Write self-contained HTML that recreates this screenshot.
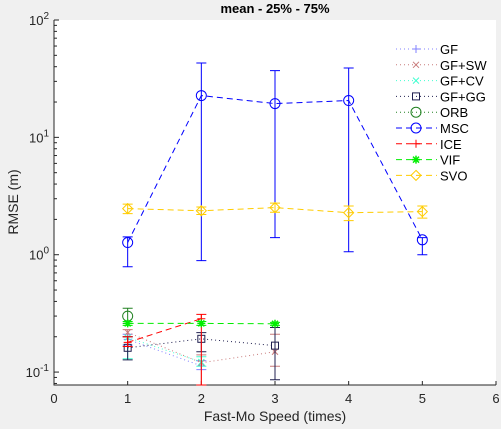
<!DOCTYPE html>
<html><head><meta charset="utf-8"><style>
html,body{margin:0;padding:0;background:#f0f0f0;}
svg{display:block;font-family:"Liberation Sans",sans-serif;}
</style></head><body>
<svg id="c" width="501" height="429">
<rect x="54" y="20" width="442" height="365" fill="#fff"/>
<text x="275" y="13" text-anchor="middle" font-size="13" font-weight="bold" fill="#000">mean - 25% - 75%</text>
<text x="275" y="421" text-anchor="middle" font-size="14" fill="#262626">Fast-Mo Speed (times)</text>
<text transform="translate(18,202) rotate(-90)" text-anchor="middle" font-size="14" fill="#262626">RMSE (m)</text>
<g id="axes"></g><g id="series"></g><g id="legend"></g>
</svg>
<script>
const xTicks=[0,1,2,3,4,5,6];
const yDecades=[-1,0,1,2];
const names=["GF","GF+SW","GF+CV","GF+GG","ORB","MSC","ICE","VIF","SVO"];
const colors=["#8080ff","#c87a7a","#40ffd0","#202050","#208020","#0000ff","#ff0000","#00ee00","#ffcc00"];
const dashes=["1,3","1,3","1,3","1,3","1,3","6,4","6,4","6,4","6,4"];
const markers=["plus","x","x","square","circle","circle","plus","star","diamond"];
const xs=[[1,2],[1,2,3],[1,2],[1,2,3],[1],[1,2,3,4,5],[1,2],[1,2,3],[1,2,3,4,5]];
const means=[[0.19,0.113],[0.218,0.12,0.149],[0.197,0.122],[0.161,0.192,0.168],[0.30],[1.27,22.7,19.4,20.6,1.34],[0.179,0.285],[0.26,0.26,0.258],[2.47,2.37,2.52,2.28,2.33]];
const lows=[[0.17,0.105],[0.2,0.077,0.112],[0.13,0.112],[0.127,0.149,0.086],[0.26],[0.79,0.89,1.4,1.06,1.0],[0.165,0.077],[0.25,0.25,0.25],[2.24,2.2,2.3,1.95,2.05]];
const highs=[[0.21,0.125],[0.23,0.14,0.21],[0.2,0.135],[0.2,0.217,0.24],[0.35],[1.42,43,37,39,1.4],[0.2,0.31],[0.27,0.27,0.265],[2.7,2.55,2.75,2.6,2.6]];
const NS="http://www.w3.org/2000/svg";
const X0=54,X1=496,Y0=385,Ytop=20;
const yMin=Math.log10(0.0776),yMax=2;
function sx(v){return X0+(v-0)/(6-0)*(X1-X0);}
function sy(v){return Ytop+(yMax-Math.log10(v))/(yMax-yMin)*(Y0-Ytop);}
function mk(tag,attrs,parent){const e=document.createElementNS(NS,tag);for(const k in attrs)e.setAttribute(k,attrs[k]);parent.appendChild(e);return e;}
const ax=document.getElementById('axes');
let a=mk('path',{d:`M${X0},${Ytop}V${Y0}H${X1}`,stroke:'#262626',fill:'none','stroke-width':1},ax);


xTicks.forEach(t=>{const x=sx(t);
 const l=mk('line',{x1:x,x2:x,y1:Y0,y2:Y0-4,stroke:'#262626'},ax);
 
 
 const tx=mk('text',{x:x,y:Y0+18,'text-anchor':'middle','font-size':13,fill:'#262626'},ax);tx.textContent=t;
 
 
});
yDecades.forEach(d=>{const y=sy(Math.pow(10,d));
 const l=mk('line',{x1:X0,x2:X0+5,y1:y,y2:y,stroke:'#262626'},ax);
 
 
 const tx=mk('text',{x:X0-5,y:y+5,'text-anchor':'end','font-size':13,fill:'#262626'},ax);
 tx.innerHTML='10<tspan dy="-6" font-size="10">'+d+'</tspan>';
 
 
 if(d<2)for(let m=2;m<10;m++){const v=m*Math.pow(10,d);const yy=sy(v);if(yy>Y0)continue;
  const ml=mk('line',{x1:X0,x2:X0+3,y1:yy,y2:yy,stroke:'#262626'},ax);
  
  }
});
{const yy=sy(0.09),yy2=sy(0.08);[yy,yy2].forEach(y=>{const ml=mk('line',{x1:X0,x2:X0+3,y1:y,y2:y,stroke:'#262626'},ax);});}
function marker(type,x,y,c,g){
 const s=4;let e;
 if(type==='plus')e=mk('path',{d:`M${x-s},${y}H${x+s}M${x},${y-s}V${y+s}`,stroke:c,fill:'none'},g);
 else if(type==='x')e=mk('path',{d:`M${x-3},${y-3}L${x+3},${y+3}M${x-3},${y+3}L${x+3},${y-3}`,stroke:c,fill:'none'},g);
 else if(type==='square')e=mk('rect',{x:x-3.5,y:y-3.5,width:7,height:7,stroke:c,fill:'none'},g);
 else if(type==='circle')e=mk('circle',{cx:x,cy:y,r:5,stroke:c,fill:'none'},g);
 else if(type==='star')e=mk('path',{d:`M${x-s},${y}H${x+s}M${x},${y-s}V${y+s}M${x-3},${y-3}L${x+3},${y+3}M${x-3},${y+3}L${x+3},${y-3}`,stroke:c,fill:'none','stroke-width':1.5},g);
 else e=mk('path',{d:`M${x},${y-5}L${x+5},${y}L${x},${y+5}L${x-5},${y}Z`,stroke:c,fill:'none'},g);
 return e;
}
const sg=document.getElementById('series');
names.forEach((n,i)=>{
 const g=mk('g',{},sg);
 
 
 const pts=xs[i].map((x,j)=>[sx(x),sy(means[i][j])]);
 const ln=mk('polyline',{points:pts.map(p=>p.join(',')).join(' '),stroke:colors[i],fill:'none','stroke-dasharray':dashes[i]},g);
 
 
 xs[i].forEach((x,j)=>{const px=sx(x),lo=Math.min(sy(lows[i][j]),Y0),hi=sy(highs[i][j]);
  const eb=mk('path',{d:`M${px},${lo}V${hi}M${px-5},${lo}H${px+5}M${px-5},${hi}H${px+5}`,stroke:colors[i],fill:'none'},g);
  
  
  const m=marker(markers[i],px,sy(means[i][j]),colors[i],g);
  
  
 });
});
const lg=document.getElementById('legend');
names.forEach((n,i)=>{const y=49+i*15.8;
 const g=mk('g',{},lg);
 
 
 mk('line',{x1:396,x2:437,y1:y,y2:y,stroke:colors[i],'stroke-dasharray':dashes[i]},g);
 marker(markers[i],416,y,colors[i],g);
 const t=mk('text',{x:440,y:y+5,'font-size':13,fill:'#000'},g);t.textContent=n;
});
</script>
</body></html>
